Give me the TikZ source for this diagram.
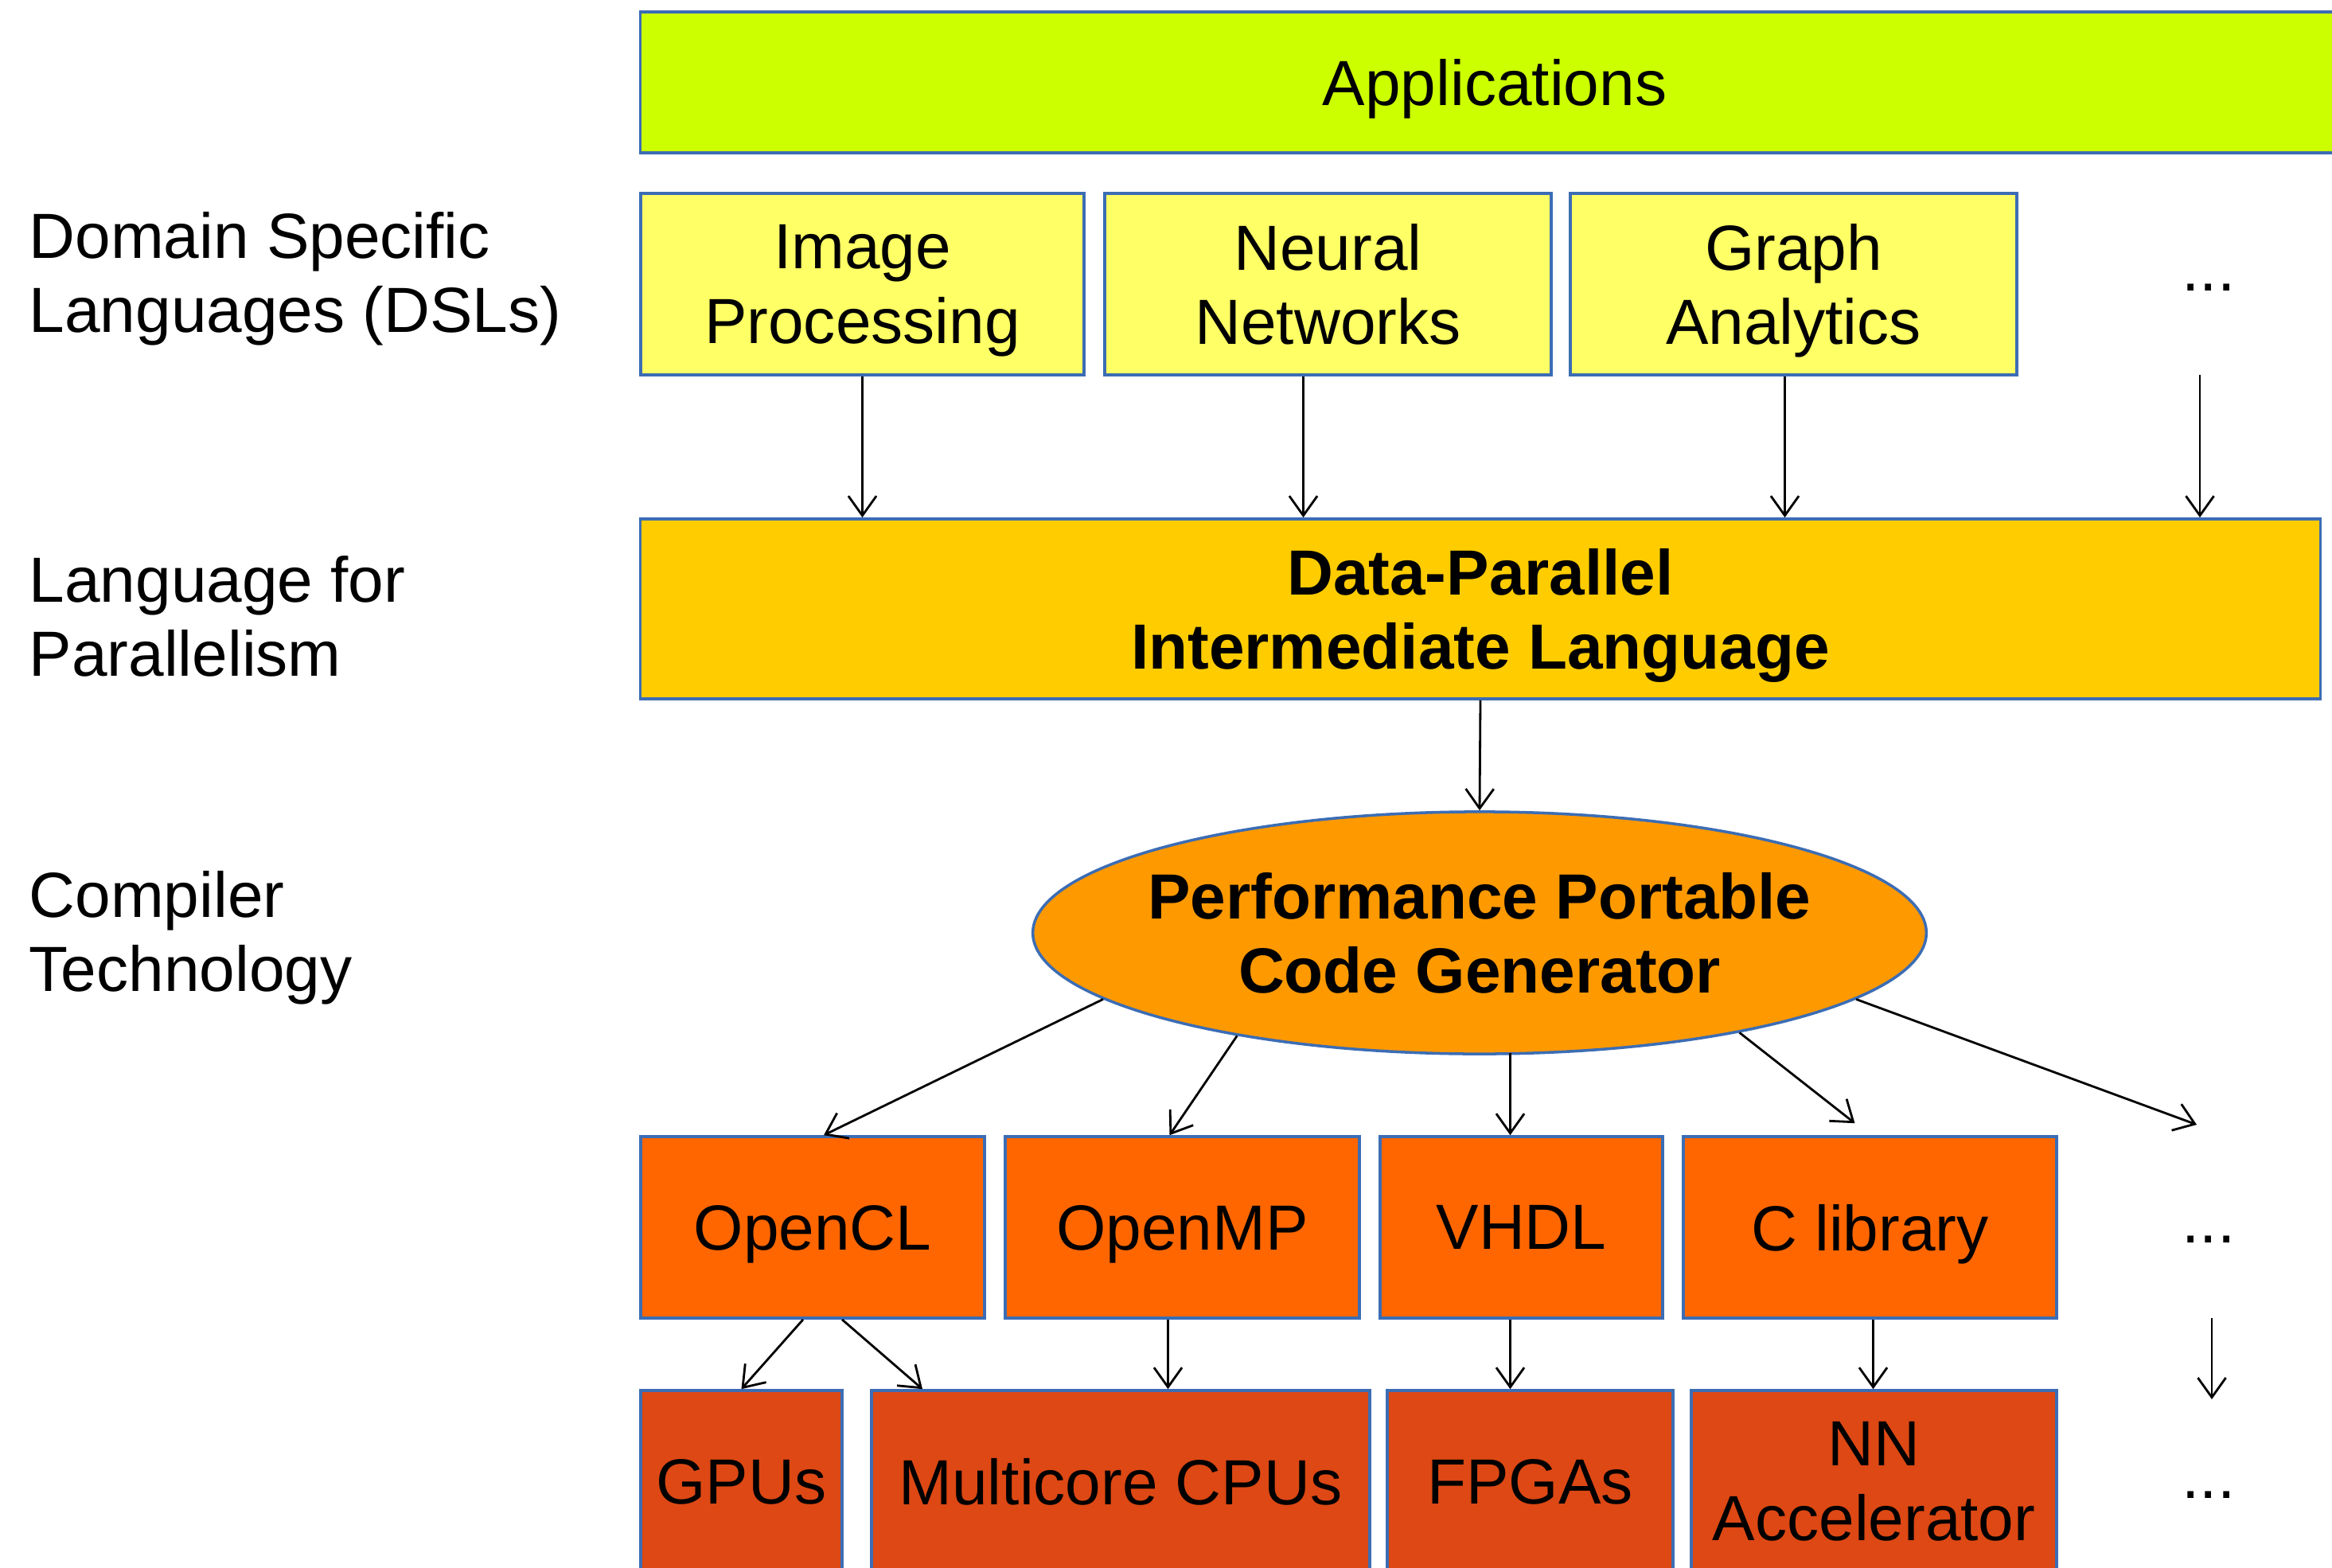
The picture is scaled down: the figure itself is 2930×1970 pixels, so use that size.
\documentclass[tikz,border=0pt]{standalone}
\usepackage{fontspec}
\setmainfont{Liberation Sans}
\usetikzlibrary{arrows.meta,calc,shapes.geometric}
\definecolor{appc}{HTML}{CCFF00}
\definecolor{dslc}{HTML}{FFFF66}
\definecolor{dpc}{HTML}{FFCC00}
\definecolor{pgc}{HTML}{FF9900}
\definecolor{langc}{HTML}{FF6600}
\definecolor{hwc}{HTML}{DD4814}
\definecolor{bordc}{HTML}{3C6DB4}
\begin{document}
\begin{tikzpicture}[x=0.01cm,y=-0.01cm,
  every node/.style={font=\fontsize{22.8}{26.6}\selectfont, align=center, inner sep=0pt, text depth=0pt},
  boxst/.style={draw=bordc, line width=1pt, rectangle, minimum height=2.28cm},
  arr/.style={-{Straight Barb[length=7pt,width=10pt]}, line width=0.8pt, black},
  sidelabel/.style={anchor=west, align=left},
  dotsst/.style={anchor=base}]
\useasboundingbox (0,0) rectangle (2930,1970);
\clip (0,0) rectangle (2930,1970);

% side labels
\node[sidelabel] (l1) at (36,342) {Domain Specific\\Languages (DSLs)};
\node[sidelabel] (l2) at (36,774) {Language for\\Parallelism};
\node[sidelabel] (l3) at (36,1170) {Compiler\\Technology};

% applications
\node[boxst, fill=appc, minimum width=21.55cm, minimum height=1.77cm] (app) at (1882.5,103.5) {};
\node (apptxt) at (1878,103.5) {Applications};

% DSLs
\node[boxst, fill=dslc, minimum width=5.57cm] (ip) at (1083.5,357) {Image\\Processing};
\node[boxst, fill=dslc, minimum width=5.61cm] (nn) at (1668.5,357) {Neural\\Networks};
\node[boxst, fill=dslc, minimum width=5.61cm] (ga) at (2253.5,357) {Graph\\Analytics};
\node[dotsst] (d1) at (2775,366) {...};
\coordinate (d1a) at (2764,471);

% data parallel IL
\node[boxst, fill=dpc, minimum width=21.1cm, minimum height=2.26cm, font=\fontsize{22.8}{26.6}\selectfont\bfseries] (dp) at (1860,765) {Data-Parallel\\Intermediate Language};

% code generator
\node[ellipse, draw=bordc, line width=1pt, fill=pgc, inner xsep=-1cm, inner ysep=-1cm, minimum width=11.22cm, minimum height=3.04cm, font=\fontsize{22.8}{26.6}\selectfont\bfseries] (pg) at (1859,1172) {Performance Portable\\Code Generator};

% languages
\node[boxst, fill=langc, minimum width=4.32cm] (ocl) at (1021,1542) {OpenCL};
\node[boxst, fill=langc, minimum width=4.45cm] (omp) at (1485.5,1542) {OpenMP};
\node[boxst, fill=langc, minimum width=3.55cm] (vhdl) at (1911.5,1542) {VHDL};
\node[boxst, fill=langc, minimum width=4.69cm] (clib) at (2349.5,1542) {C library};
\node[dotsst] (d2) at (2775,1561) {...};
\coordinate (d2a) at (2760,1413);
\coordinate (d3a) at (2779,1656);
\coordinate (d3b) at (2779,1758);

% hardware
\node[boxst, fill=hwc, minimum width=2.53cm] (gpu) at (931.5,1861) {GPUs};
\node[boxst, fill=hwc, minimum width=6.26cm] (mc) at (1408,1861) {Multicore CPUs};
\node[boxst, fill=hwc, minimum width=3.59cm] (fpga) at (1922.5,1861) {FPGAs};
\node[boxst, fill=hwc, minimum width=4.59cm] (nna) at (2354.5,1861) {NN\\Accelerator};
\node[dotsst] (d3) at (2775,1882) {...};

% arrows DSL -> IL
\draw[arr] (ip.south) -- (ip.south |- dp.north);
\draw[arr] ($(nn.south)+(-31,0)$) coordinate (t1) -- (t1 |- dp.north);
\draw[arr] ($(ga.south)+(-11,0)$) coordinate (t2) -- (t2 |- dp.north);
\draw[arr] (d1a) -- (d1a |- dp.north);

% IL -> generator
\draw[arr] (dp.south) -- (pg.north);

% generator -> languages
\draw[arr] (pg.190) -- ($(ocl.north)+(14,0)$);
\draw[arr] (pg.203.4) -- ($(omp.north)+(-16,0)$);
\draw[arr] ($(vhdl.north)+(-14,0)$) coordinate (t3) ++(0,-103) -- (t3);
\draw[arr] (pg.339.2) -- ($(clib.north)+(-19,-15)$);
\draw[arr] (pg.350.3) -- (d2a);

% languages -> hardware
\draw[arr] ($(ocl.south)+(-12,0)$) -- (gpu.north);
\draw[arr] ($(ocl.south)+(37,0)$) -- ($(mc.north)+(-249,0)$);
\draw[arr] ($(omp.south)+(-18,0)$) coordinate (t4) -- (t4 |- mc.north);
\draw[arr] ($(vhdl.south)+(-14,0)$) coordinate (t5) -- (t5 |- fpga.north);
\draw[arr] ($(clib.south)+(4,0)$) coordinate (t6) -- (t6 |- nna.north);
\draw[arr] (d3a) -- (d3b);
\end{tikzpicture}
\end{document}
